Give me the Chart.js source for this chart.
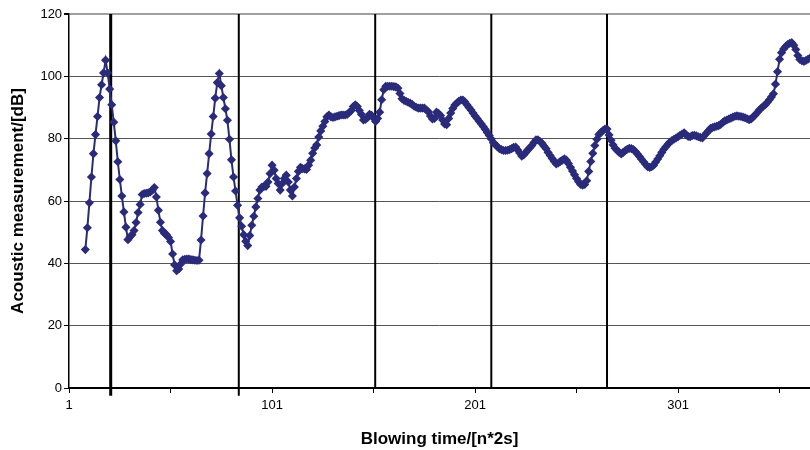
<!DOCTYPE html>
<html>
<head>
<meta charset="utf-8">
<script src="https://cdn.jsdelivr.net/npm/chart.js@4.4.1/dist/chart.umd.min.js"></script>
<style>
  html, body { margin: 0; padding: 0; background: #fff; }
  #wrap { width: 810px; height: 450px; position: relative; }
</style>
</head>
<body>
<div id="wrap"><canvas id="chart"></canvas></div>
<script>
// Sample numbers (n) run from firstSample to lastSample, one reading each
const firstSample = 9;
const lastSample = 366;

const acoustic = [
  44.4, 51.4, 59.4, 67.7, 75.2, 81.3, 87.1, 93.2, 97.3, 101.1, 105.2,
  101.1, 95.9, 90.9, 85.3, 79.3, 72.6, 66.9, 61.6, 56.5, 51.6, 47.6,
  48.5, 49.2, 50.5, 53.1, 56.3, 58.9, 62.1, 62.4, 62.5, 62.6, 62.9, 63.5,
  64.3, 61.3, 57.0, 53.2, 50.5, 49.6, 49.2, 48.3, 47.0, 43.0, 39.5, 37.6,
  38.2, 39.8, 41.1, 41.3, 41.4, 41.4, 41.2, 41.1, 41.0, 40.9,
  41.0, 47.5, 55.2, 62.6, 68.8, 75.2, 81.5, 87.1, 93.0, 98.0, 100.9,
  97.0, 93.2, 89.6, 85.9, 79.8, 73.2, 67.7, 63.2, 58.6, 54.6, 51.9, 49.2, 47.1, 45.7,
  48.9, 52.2, 55.1, 58.1, 60.8, 63.5, 64.5, 64.7, 64.7, 66.1, 68.8, 71.5,
  69.9, 67.2, 65.6, 63.5, 65.6, 67.2, 68.3, 66.1, 63.5, 61.6, 64.5, 67.2,
  69.5, 70.8, 70.4, 70.3, 70.1, 71.5, 73.1, 75.3, 77.0, 78.0, 80.5, 82.5, 84.0, 85.5, 87.0, 87.6, 87.0,
  86.8, 87.0, 87.2, 87.4, 87.6, 87.6, 87.6, 87.8, 88.4, 89.0,
  90.3, 90.9, 90.3, 89.0, 87.8, 86.0, 86.2, 86.7, 87.8, 87.5,
  86.6, 85.5, 86.5, 88.5, 92.5, 95.7, 96.8, 96.8, 96.8, 96.8,
  96.7, 96.6, 96.2, 94.5, 92.8, 92.3, 92.0, 91.7, 91.4, 91.0,
  90.4, 90.1, 89.8, 89.8, 89.8, 89.8, 89.2, 88.6, 87.3, 86.3,
  86.5, 88.5, 88.1, 87.4, 86.0, 84.7, 84.5, 86.5, 88.2, 89.7,
  90.8, 91.4, 92.0, 92.4, 92.4, 91.8, 90.9, 90.0, 89.2, 88.2,
  87.3, 86.5, 85.6, 84.8, 83.9, 83.0, 82.0, 81.0, 79.9, 78.7,
  78.1, 77.4, 76.8, 76.5, 76.2, 76.2, 76.3, 76.5, 76.8, 77.2,
  77.3, 76.4, 75.4, 74.4, 74.8, 75.6, 76.4, 77.1, 77.8, 78.8,
  79.6, 79.6, 79.1, 78.5, 77.6, 76.8, 75.6, 74.6, 73.6, 72.7,
  71.9, 72.2, 72.7, 73.1, 73.5, 73.1, 72.0, 70.8, 69.6, 68.4,
  67.2, 66.2, 65.3, 65.1, 65.3, 66.5, 69.5, 72.7, 75.3, 77.8,
  79.8, 81.3, 82.0, 82.6, 83.1, 83.1, 81.2, 79.5, 78.0, 76.9,
  76.3, 75.6, 75.1, 75.6, 76.2, 76.6, 76.9, 76.8, 76.5, 75.9,
  75.1, 74.3, 73.4, 72.6, 71.8, 71.0, 70.8, 71.0, 71.5, 72.5,
  73.5, 74.5, 75.6, 76.6, 77.4, 78.2, 78.9, 79.4, 79.8, 80.2,
  80.6, 81.1, 81.5, 81.9, 81.2, 80.7, 80.6, 81.0, 81.1, 80.9,
  80.6, 80.4, 80.2, 81.0, 81.8, 82.5, 83.3, 83.6, 83.8, 84.0,
  84.2, 84.6, 85.2, 85.7, 86.0, 86.3, 86.6, 86.9, 87.2, 87.3,
  87.2, 87.1, 86.9, 86.7, 86.4, 86.1, 86.3, 87.0, 87.6, 88.4,
  89.2, 89.8, 90.4, 90.9, 91.7, 92.5, 93.4, 94.4, 97.5, 101.5,
  105.5, 107.6, 108.8, 109.6, 110.2, 110.6, 110.8, 110.0, 108.6, 106.7,
  105.4, 105.0, 104.8, 105.1, 105.5, 105.9
];

// Vertical phase markers (sample number) and where each one starts
const phaseMarks = [21.5, 84.6, 151.8, 209, 266];
const phaseMarkBottoms = [-2.5, -2.5, 0, 0, 0];
const phaseMarkWidths = [3, 2, 2, 2, 2];

const xTicks = [1, 51, 101, 151, 201, 251, 301, 351];
const xLabelled = [1, 101, 201, 301];

const FONT = "'Liberation Sans', Arial, sans-serif";
const navy = '#2b2b7b';

const series = acoustic.map((v, k) => ({ x: firstSample + k, y: v }));

const markDatasets = phaseMarks.map((x, k) => ({
  type: 'line',
  data: [{ x, y: phaseMarkBottoms[k] }, { x, y: 120 }],
  borderColor: '#000',
  borderWidth: phaseMarkWidths[k],
  pointRadius: 0,
  clip: false,
  order: 2,
}));

new Chart(document.getElementById('chart'), {
  type: 'line',
  data: {
    datasets: [
      {
        label: 'Acoustic measurement',
        data: series,
        borderColor: navy,
        backgroundColor: navy,
        borderWidth: 2,
        pointStyle: 'rectRot',
        pointRadius: 3.5,
        pointBorderWidth: 1.5,
        tension: 0,
        order: 1,
      },
      ...markDatasets
    ]
  },
  options: {
    responsive: true,
    maintainAspectRatio: false,
    animation: false,
    layout: { autoPadding: false, padding: { left: 4, right: 0, top: 14, bottom: 0 } },
    plugins: {
      legend: { display: false },
      tooltip: { enabled: false }
    },
    scales: {
      x: {
        type: 'linear',
        min: 1,
        max: lastSample,
        afterBuildTicks: scale => { scale.ticks = xTicks.map(v => ({ value: v })); },
        ticks: {
          autoSkip: false,
          maxRotation: 0,
          padding: 5,
          color: '#000',
          font: { family: FONT, size: 13 },
          callback: v => xLabelled.includes(v) ? String(v) : ''
        },
        grid: { drawOnChartArea: false, tickLength: 5, tickColor: '#000' },
        border: { color: '#000', width: 2 },
        title: {
          display: true,
          text: 'Blowing time/[n*2s]',
          color: '#000',
          font: { family: FONT, size: 17, weight: 'bold' },
          padding: { top: 11, bottom: 0 }
        }
      },
      y: {
        min: 0,
        max: 120,
        ticks: {
          stepSize: 20,
          padding: 2,
          color: '#000',
          font: { family: FONT, size: 13 }
        },
        grid: {
          color: c => c.tick && c.tick.value === 120 ? '#a0a0a0' : '#555',
          lineWidth: c => c.tick && c.tick.value === 120 ? 2 : 1,
          tickLength: 5,
          tickColor: '#000'
        },
        border: { color: '#000', width: 1.5 },
        title: {
          display: true,
          text: 'Acoustic measurement/[dB]',
          color: '#000',
          font: { family: FONT, size: 17, weight: 'bold' },
          padding: { top: 4, bottom: 10 }
        }
      }
    }
  }
});
</script>
</body>
</html>
